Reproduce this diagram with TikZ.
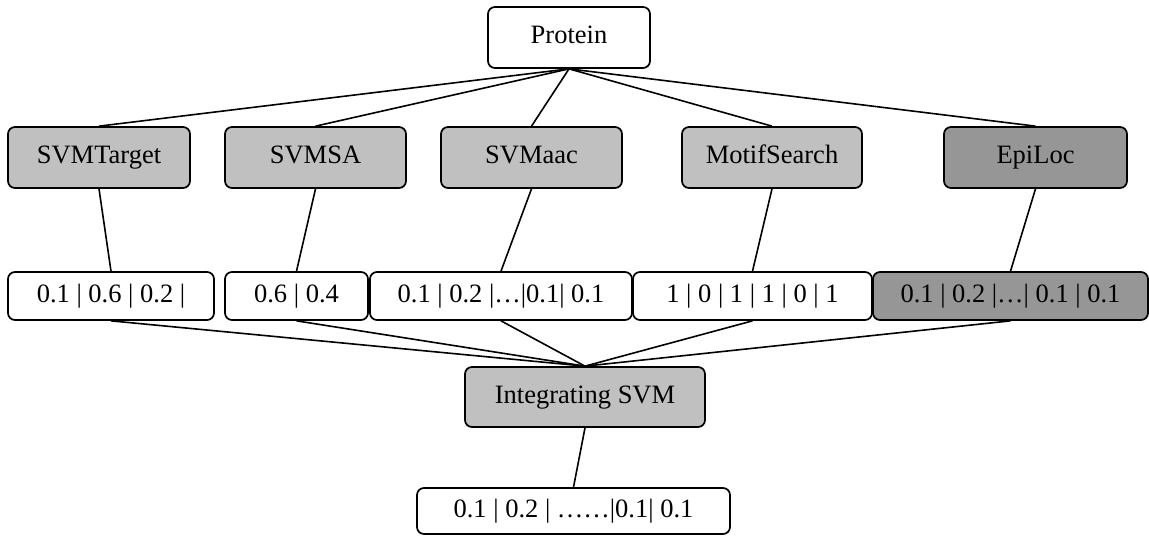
\documentclass[tikz,border=0pt]{standalone}
\usepackage{fontspec}
\setmainfont{Liberation Serif}
\definecolor{toolgray}{RGB}{192,192,192}
\definecolor{darkgray}{RGB}{150,150,150}
\tikzset{
  box/.style={draw=black, line width=1.7pt, rounded corners=7pt, inner sep=0pt,
    font=\fontsize{26.5}{30}\selectfont, text height=18pt, text depth=5.5pt,
    fill=white},
  toolbox/.style={box, fill=toolgray, minimum height=61pt},
  valbox/.style={box, minimum height=48pt},
  link/.style={line width=1.6pt, black}
}
\begin{document}
\begin{tikzpicture}[x=1pt,y=-1pt]
\useasboundingbox (0,0) rectangle (1149,536);

% root
\node[box, minimum width=162pt, minimum height=61pt] (protein) at (569,37.5) {Protein};

% predictors
\node[toolbox, minimum width=182pt] (t1) at (99,157.5) {SVMTarget};
\node[toolbox, minimum width=181pt] (t2) at (315.5,157.5) {SVMSA};
\node[toolbox, minimum width=181pt] (t3) at (531.5,157.5) {SVMaac};
\node[toolbox, minimum width=180pt] (t4) at (772,157.5) {MotifSearch};
\node[toolbox, minimum width=183pt, fill=darkgray] (t5) at (1035.5,157.5) {EpiLoc};

% predictor outputs
\node[valbox, minimum width=206pt] (v1) at (111,296) {0.1 | 0.6 | 0.2 |};
\node[valbox, minimum width=143pt] (v2) at (296.5,296) {0.6 | 0.4};
\node[valbox, minimum width=262pt] (v3) at (501,296) {0.1 | 0.2 |…|0.1| 0.1};
\node[valbox, minimum width=239pt] (v4) at (752.5,296) {1 | 0 | 1 | 1 | 0 | 1};
\node[valbox, minimum width=275pt, fill=darkgray] (v5) at (1010.5,296) {0.1 | 0.2 |…| 0.1 | 0.1};

% integration
\node[toolbox, minimum width=240pt, minimum height=60pt] (integ) at (585,397) {Integrating SVM};
\node[box, minimum width=313pt, minimum height=46pt] (out) at (573.5,511) {0.1 | 0.2 | ……|0.1| 0.1};

% connectors
\foreach \t in {t1,t2,t3,t4,t5}
  \draw[link] (protein.south) -- (\t.north);
\foreach \t/\v in {t1/v1,t2/v2,t3/v3,t4/v4,t5/v5}
  \draw[link] (\t.south) -- (\v.north);
\foreach \v in {v1,v2,v3,v4,v5}
  \draw[link] (\v.south) -- (integ.north);
\draw[link] (integ.south) -- (out.north);
\end{tikzpicture}
\end{document}
